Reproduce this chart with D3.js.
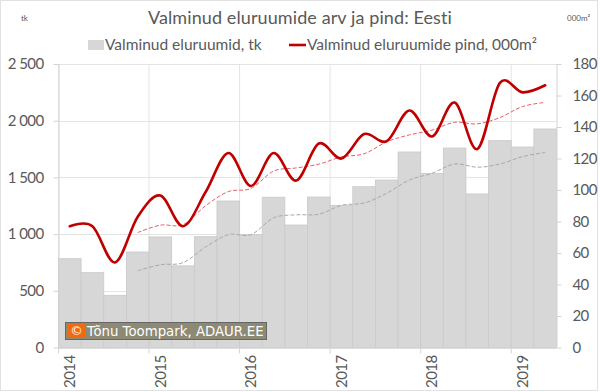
<!DOCTYPE html>
<html><head><meta charset="utf-8">
<script src="https://cdn.jsdelivr.net/npm/d3@7/dist/d3.min.js"></script>
<style>html,body{margin:0;padding:0;background:#fff}svg{display:block}text{font-family:Lato,"Open Sans",sans-serif}</style>
</head><body><svg id="c" width="600" height="392"></svg>
<script>
const quarters=["2014Q1","2014Q2","2014Q3","2014Q4","2015Q1","2015Q2","2015Q3","2015Q4","2016Q1","2016Q2","2016Q3","2016Q4","2017Q1","2017Q2","2017Q3","2017Q4","2018Q1","2018Q2","2018Q3","2018Q4","2019Q1","2019Q2"];
const dwellings=[783,660,460,842,975,720,977,1292,995,1325,1080,1327,1254,1418,1477,1724,1536,1759,1354,1824,1768,1927];
const area=[77,77,54,83,96.5,77,98.7,123.5,102.5,123.5,106,129.5,120,135.5,131,150.5,134,155.5,126,168,162,166.5];
const dwellingsAvg=[null,null,null,677,730,748,886,995,995,1143,1170,1175,1254,1274,1360,1477,1536,1618,1590,1618,1683,1720];
const areaAvg=[null,null,null,73,77.7,78,90,99,101,112,114,116.4,121,123,130.6,135,138,143,142,146,153,155.6];
const leftTicks=[0,500,1000,1500,2000,2500];
const rightTicks=[0,20,40,60,80,100,120,140,160,180];
const title="Valminud eluruumide arv ja pind: Eesti";
const legendBar="Valminud eluruumid, tk";
const legendLine="Valminud eluruumide pind, 000m²";
const unitLeft="tk", unitRight="000m²";
const credit="Tõnu Toompark, ADAUR.EE";

const L=58.5,R=556.5,T=64,B=347.5;
const svg=d3.select("#c");
const x=d3.scaleBand().domain(quarters).range([L,R]);
const yL=d3.scaleLinear().domain([0,2500]).range([B,T]);
const yR=d3.scaleLinear().domain([0,180]).range([B,T]);
const txt="#595959",grid="#e4e4e4";
const yearStarts=quarters.filter(q=>q.endsWith("Q1"));

svg.append("rect").attr("x",0.5).attr("y",0.5).attr("width",597).attr("height",390).attr("fill","#fff").attr("stroke","#e2e2e2");

// gridlines
svg.append("g").selectAll("line").data(leftTicks).join("line")
 .attr("x1",L).attr("x2",R).attr("y1",d=>Math.round(yL(d))+.5).attr("y2",d=>Math.round(yL(d))+.5).attr("stroke",grid);
svg.append("g").selectAll("line").data(yearStarts).join("line")
 .attr("x1",q=>x(q)).attr("x2",q=>x(q)).attr("y1",T).attr("y2",B).attr("stroke",grid);

// bars
svg.append("g").selectAll("rect").data(quarters).join("rect")
 .attr("x",q=>x(q)).attr("width",x.bandwidth())
 .attr("y",(q,i)=>yL(dwellings[i])).attr("height",(q,i)=>B-yL(dwellings[i]))
 .attr("fill","#d7d7d7").attr("stroke","#c9c9c9").attr("stroke-width",.8);

// axes
const axL=d3.axisLeft(yL).tickValues(leftTicks).tickSize(5).tickFormat(d=>d3.format(",")(d).replace(",","\u00a0"));
const gL=svg.append("g").attr("transform",`translate(${L},0)`).call(axL);
const axR=d3.axisRight(yR).tickValues(rightTicks).tickSize(5);
const gR=svg.append("g").attr("transform",`translate(${R},0)`).call(axR);
const axB=d3.axisBottom(x).tickValues(yearStarts).tickSize(0).tickFormat(q=>q.slice(0,4));
const gB=svg.append("g").attr("transform",`translate(0,${B})`).call(axB);
[gL,gR,gB].forEach(g=>{g.selectAll("path").attr("stroke","#d4d4d4");g.selectAll(".tick line").attr("stroke","#d4d4d4");
 g.selectAll("text").attr("fill",txt).style("font-family","Lato").style("font-size","15px").style("letter-spacing","-0.6px");});
gL.select("path").attr("d",`M0.5,${T}V${B}`);
gR.select("path").attr("d",`M0.5,${T}V${B}`);
gL.selectAll(".tick text").attr("x",-15);
gR.selectAll(".tick text").attr("x",16);
gB.select("path").attr("d",`M${L},0.5H${R}`);
gB.selectAll(".tick text").attr("transform","rotate(-90)").attr("text-anchor","end").attr("x",-8).attr("y",0).attr("dy","0.35em");
svg.append("g").selectAll("line").data(yearStarts).join("line")
 .attr("x1",q=>x(q)).attr("x2",q=>x(q)).attr("y1",B).attr("y2",B+6).attr("stroke","#d4d4d4");

// lines
const xc=q=>x(q)+x.bandwidth()/2;
const smooth=d3.line().defined(d=>d.v!=null).x(d=>xc(d.q)).curve(d3.curveCatmullRom.alpha(0));
const pts=a=>quarters.map((q,i)=>({q,v:a[i]}));
svg.append("path").attr("d",smooth.y(d=>yL(d.v))(pts(dwellingsAvg))).attr("fill","none").attr("stroke","#a8a8a8").attr("stroke-width",1).attr("stroke-dasharray","4 2");
svg.append("path").attr("d",smooth.y(d=>yR(d.v))(pts(areaAvg))).attr("fill","none").attr("stroke","#e0606a").attr("stroke-width",1).attr("stroke-dasharray","4 2");
svg.append("path").attr("d",smooth.y(d=>yR(d.v))(pts(area))).attr("fill","none").attr("stroke","#c00000").attr("stroke-width",2.6).attr("stroke-linecap","round");

// title, legend, units
svg.append("text").attr("x",300).attr("y",24).attr("text-anchor","middle").attr("fill",txt).style("font-size","18px").style("letter-spacing","0.1px").text(title);
svg.append("text").attr("x",21).attr("y",21).attr("fill",txt).style("font-size","8px").text(unitLeft);
svg.append("text").attr("x",567).attr("y",21).attr("fill",txt).style("font-size","8px").text(unitRight);
svg.append("rect").attr("x",88).attr("y",40).attr("width",16).attr("height",10).attr("fill","#d7d7d7");
svg.append("text").attr("x",105).attr("y",50).attr("fill",txt).style("font-size","15.5px").text(legendBar);
svg.append("line").attr("x1",289).attr("x2",306).attr("y1",45).attr("y2",45).attr("stroke","#c00000").attr("stroke-width",2.6);
svg.append("text").attr("x",307).attr("y",50).attr("fill",txt).style("font-size","15.5px").text(legendLine);

// credit
svg.append("rect").attr("x",65.5).attr("y",322.5).attr("width",201).attr("height",17).attr("fill","#8c8a74").attr("stroke","#666");
svg.append("rect").attr("x",67.5).attr("y",324).attr("width",18).attr("height",14).attr("fill","#f26a10");
svg.append("text").attr("x",76.5).attr("y",335).attr("text-anchor","middle").attr("fill","#fff").style("font-family","DejaVu Sans").style("font-size","12.5px").text("©");
svg.append("text").attr("x",87).attr("y",335.5).attr("fill","#fff").style("font-family","DejaVu Sans").style("font-size","13.3px").text(credit);
</script></body></html>
